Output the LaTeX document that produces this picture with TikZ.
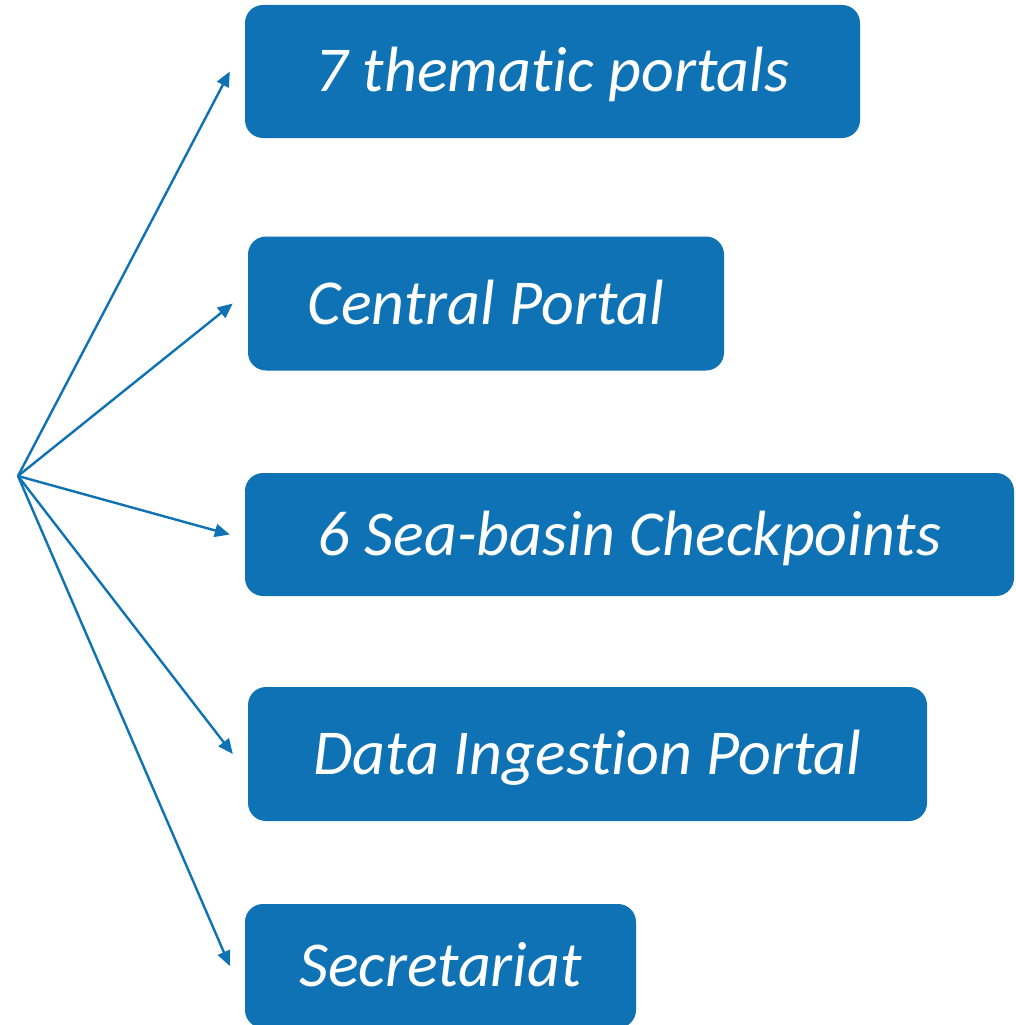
\documentclass[tikz,border=0pt]{standalone}
\usepackage{fontspec}
\setmainfont{Carlito}[Ligatures=NoCommon]
\usetikzlibrary{arrows.meta}
\definecolor{boxblue}{RGB}{14,114,180}
\tikzset{
  portalbox/.style={fill=boxblue, draw=none, rounded corners=18pt, text=white,
    font=\fontsize{64}{76}\selectfont\itshape, inner sep=0pt, anchor=center,
    text height=41pt, text depth=-3pt},
  fanarrow/.style={draw=boxblue, line width=2.4pt, -{Triangle[length=15pt,width=13pt]}}
}
\begin{document}
\begin{tikzpicture}[x=1pt,y=-1pt]
\useasboundingbox (0,0) rectangle (1015,1025);
\node[portalbox, minimum width=615pt, minimum height=133pt] (b1) at (552.5,71.5) {7 thematic portals};
\node[portalbox, minimum width=476pt, minimum height=134pt] (b2) at (486,303.5) {Central Portal};
\node[portalbox, minimum width=769pt, minimum height=123pt] (b3) at (629.5,534.5) {6 Sea-basin Checkpoints};
\node[portalbox, minimum width=679pt, minimum height=134pt] (b4) at (587.5,754) {Data Ingestion Portal};
\node[portalbox, minimum width=391pt, minimum height=124pt] (b5) at (440.5,966) {Secretariat};
\coordinate (src) at (18,476);
\foreach \b in {b1,b2,b3,b4,b5}{
  \draw[fanarrow] (src) -- ([xshift=-15pt]\b.west);
}
\end{tikzpicture}
\end{document}
